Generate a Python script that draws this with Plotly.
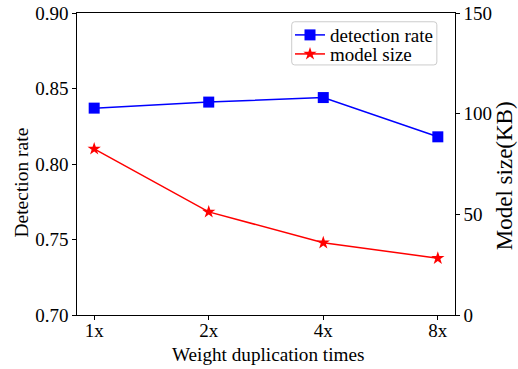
import plotly.graph_objects as go

categories = ["1x", "2x", "4x", "8x"]
detection_rate = [0.837, 0.841, 0.844, 0.818]
model_size_kb = [82.5, 51.2, 35.9, 28.2]
left_ticks = [0.70, 0.75, 0.80, 0.85, 0.90]
right_ticks = [0, 50, 100, 150]

FONT = "Liberation Serif"
TF = dict(family=FONT, size=19, color="black")
xpos = list(range(len(categories)))

fig = go.Figure()
fig.add_trace(go.Scatter(
    x=xpos, y=detection_rate, name="detection rate", mode="lines+markers",
    line=dict(color="#0000ff", width=1.5),
    marker=dict(symbol="square", size=11, color="#0000ff"),
    legend="legend",
))
fig.add_trace(go.Scatter(
    x=xpos, y=model_size_kb, name="model size", mode="lines+markers", yaxis="y2",
    line=dict(color="#ff0000", width=1.5),
    marker=dict(symbol="star", size=10, color="#ff0000"),
    legend="legend2",
))

# legend frame (rounded rectangle, paper coords)
x0, x1, y0, y1 = 0.568, 0.952, 0.828, 0.971
rx, ry = 0.008, 0.010
path = (f"M{x0+rx},{y0} L{x1-rx},{y0} Q{x1},{y0} {x1},{y0+ry} "
        f"L{x1},{y1-ry} Q{x1},{y1} {x1-rx},{y1} L{x0+rx},{y1} "
        f"Q{x0},{y1} {x0},{y1-ry} L{x0},{y0+ry} Q{x0},{y0} {x0+rx},{y0} Z")
fig.add_shape(type="path", path=path, xref="paper", yref="paper",
              line=dict(color="#cccccc", width=1), fillcolor="rgba(255,255,255,0.8)",
              layer="above")

# axis titles
fig.add_annotation(text="Weight duplication times", x=0.505, y=-0.13,
                   xref="paper", yref="paper", showarrow=False,
                   xanchor="center", yanchor="middle",
                   font=dict(family=FONT, size=19.2, color="black"))
fig.add_annotation(text="Detection rate", x=-0.147, y=0.44,
                   xref="paper", yref="paper", showarrow=False, textangle=-90,
                   xanchor="center", yanchor="middle",
                   font=dict(family=FONT, size=19.5, color="black"))
fig.add_annotation(text="Model size(KB)", x=1.13, y=0.46,
                   xref="paper", yref="paper", showarrow=False, textangle=-90,
                   xanchor="center", yanchor="middle",
                   font=dict(family=FONT, size=23, color="black"))

leg_common = dict(xanchor="left", yanchor="middle", bgcolor="rgba(0,0,0,0)",
                  borderwidth=0, font=TF, itemwidth=30)

fig.update_layout(
    width=518, height=369,
    margin=dict(l=77, r=63, t=13, b=54, autoexpand=False),
    paper_bgcolor="white", plot_bgcolor="white",
    font=TF,
    showlegend=True,
    legend=dict(x=0.5635, y=0.927, **leg_common),
    legend2=dict(x=0.5635, y=0.864, **leg_common),
    xaxis=dict(
        tickmode="array", tickvals=xpos, ticktext=categories, tickfont=TF,
        range=[-0.15, 3.15], showgrid=False, zeroline=False, automargin=False,
        showline=True, linecolor="black", linewidth=1.2, mirror=True,
        ticks="outside", ticklen=3.5, tickcolor="black", ticklabelstandoff=-5,
    ),
    yaxis=dict(
        range=[0.70, 0.90], tickvals=left_ticks, tickformat=".2f", tickfont=TF,
        showgrid=False, zeroline=False, automargin=False,
        showline=True, linecolor="black", linewidth=1.2,
        ticks="outside", ticklen=3.5, tickcolor="black",
    ),
    yaxis2=dict(
        range=[0, 150], tickvals=right_ticks, overlaying="y", side="right", tickfont=TF,
        showgrid=False, zeroline=False, automargin=False,
        showline=True, linecolor="black", linewidth=1.2,
        ticks="outside", ticklen=3.5, tickcolor="black",
    ),
)

fig.write_html("out.html")
